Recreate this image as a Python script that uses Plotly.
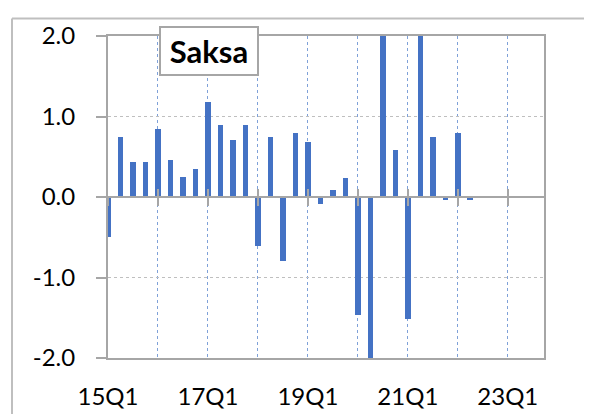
import plotly.graph_objects as go

# Saksa (Germany) - quarterly change, %
quarters = [f"{y}Q{q}" for y in range(15, 24) for q in range(1, 5)]
growth = [-0.50, 0.74, 0.43, 0.43,
          0.84, 0.46, 0.25, 0.35,
          1.18, 0.89, 0.71, 0.90,
          -0.61, 0.75, -0.80, 0.79,
          0.68, -0.09, 0.09, 0.23,
          -1.46, -9.7, 8.9, 0.59,
          -1.52, 2.2, 0.74, -0.04,
          0.79, -0.04]
year_starts = [q for q in quarters if q.endswith("Q1")]
year_text = [q if int(q[:2]) % 2 == 1 else "" for q in year_starts]
y_ticks = [-2, -1, 0, 1, 2]
y_text = ["-2.0", "-1.0", "0.0", "1.0", "2.0"]

GREY = "#A6A6A6"
FONT = "Lato"

fig = go.Figure()
fig.add_trace(go.Bar(x=quarters[:len(growth)], y=growth,
                     marker=dict(color="#4472C4", line=dict(width=0)),
                     width=0.45))
# helper traces so the zero-line axes get drawn
fig.add_trace(go.Scatter(x=[quarters[0]], y=[0], mode="none", xaxis="x2", showlegend=False))
fig.add_trace(go.Scatter(x=[quarters[0]], y=[0], mode="none", xaxis="x3", showlegend=False))

xbase = dict(type="category", categoryorder="array", categoryarray=quarters,
             range=[0, 34.9], tickvals=year_starts)

# page body has an 8px margin, so margins are shifted by -8
fig.update_layout(
    width=592, height=414,
    margin=dict(l=100, r=56, t=23, b=64),
    paper_bgcolor="white", plot_bgcolor="white",
    showlegend=False, bargap=0,
    font=dict(family=FONT, size=24, color="black"),
    xaxis=dict(**xbase, ticktext=year_text, ticks="",
               showgrid=True, gridcolor="#7FA1D8", griddash="dot", gridwidth=1,
               showline=True, linecolor=GREY, linewidth=2, mirror=True,
               ticklabelstandoff=16, tickfont=dict(size=24)),
    xaxis2=dict(**xbase, overlaying="x", anchor="free", position=0.5,
                showticklabels=False, showgrid=False, ticks="outside", ticklen=8,
                tickwidth=2, tickcolor=GREY, showline=True, linecolor=GREY, linewidth=2),
    xaxis3=dict(**xbase, overlaying="x", anchor="free", position=0.5,
                showticklabels=False, showgrid=False, ticks="inside", ticklen=8,
                tickwidth=2, tickcolor=GREY, showline=False),
    yaxis=dict(range=[-2, 2], tickvals=y_ticks, ticktext=y_text, zeroline=False,
               showgrid=True, gridcolor="#BFBFBF", griddash="dot", gridwidth=1,
               showline=True, linecolor=GREY, linewidth=2, mirror=True,
               ticks="outside", ticklen=10, tickwidth=2, tickcolor=GREY,
               ticklabelstandoff=16, tickfont=dict(size=24)),
)

fig.add_annotation(text="<b>Saksa</b>", xref="paper", yref="paper",
                   x=0.2317, y=0.953, xanchor="center", yanchor="middle",
                   showarrow=False, font=dict(family=FONT, size=31, color="black"),
                   bgcolor="white", bordercolor=GREY, borderwidth=2, borderpad=0,
                   width=96, height=46)

# outer chart frame (left and top edges)
fig.add_shape(type="line", xref="paper", yref="paper",
              x0=-0.2202, x1=-0.2202, y0=-0.3, y1=1.054,
              line=dict(color="#BFBFBF", width=2))
fig.add_shape(type="line", xref="paper", yref="paper",
              x0=-0.2202, x1=1.2, y0=1.054, y1=1.054,
              line=dict(color="#BFBFBF", width=2))

fig.write_html("out.html")
